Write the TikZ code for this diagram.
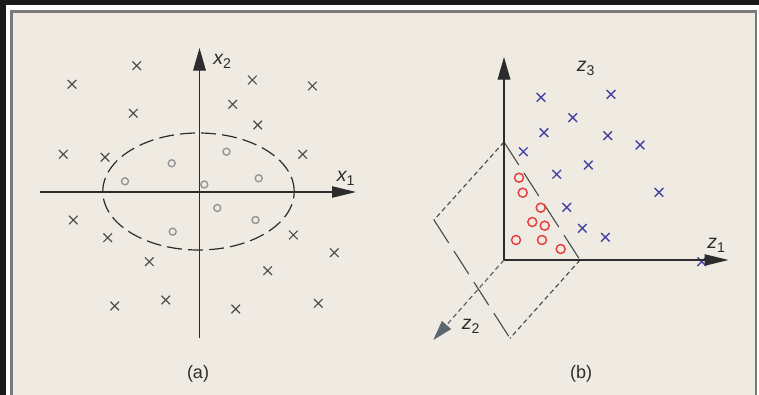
\documentclass[tikz,border=0pt]{standalone}
\usepackage{fontspec}
\setmainfont{Liberation Sans}
\usetikzlibrary{arrows.meta}
\definecolor{bg}{HTML}{EFEBE2}
\definecolor{outer}{HTML}{1A1A1A}
\definecolor{frame}{HTML}{7A7A7A}
\definecolor{axis}{HTML}{2C2C2C}
\definecolor{crossgray}{HTML}{4C4C4C}
\definecolor{circgray}{HTML}{959595}
\definecolor{bluex}{HTML}{4444A4}
\definecolor{redo}{HTML}{E64040}
\definecolor{zgray}{HTML}{5C6670}
\newcommand{\axlbl}[2]{\fontsize{14.6}{16}\selectfont\itshape #1\raisebox{-3pt}{\upshape\fontsize{10.6}{12}\selectfont #2}}
\begin{document}
\begin{tikzpicture}[x=0.75pt,y=-0.75pt,
  axisline/.style={draw=axis,line width=0.95pt},
  bigtip/.style={-{Triangle[length=18pt,width=8.5pt]}},
  vtip/.style={-{Triangle[length=17pt,width=9.5pt]}},
  ztip/.style={-{Triangle[length=15pt,width=9pt,fill=zgray]}},
  lbl/.style={anchor=base west,inner sep=0pt,text=axis},
  captext/.style={inner sep=0pt,text=axis,font=\fontsize{13.5}{15}\selectfont},
  crossa/.style={draw=crossgray,line width=0.85pt},
  crossb/.style={draw=bluex,line width=1.05pt},
  circa/.style={draw=circgray,line width=1.05pt},
  circb/.style={draw=redo,line width=1.1pt},
  shortdash/.style={draw=axis!85,line width=0.85pt,dash pattern=on 3.6pt off 2.4pt},
  longdash/.style={draw=axis!85,line width=0.85pt,dash pattern=on 20.5pt off 7.2pt},
]
\useasboundingbox (0,0) rectangle (759,395);
% frame
\fill[outer] (0,0) rectangle (759,395);
\fill[white] (6,5) rectangle (759,395);
\draw[fill=bg,draw=frame,line width=1.9pt] (11.5,11.5) rectangle (755.8,402);

% ---------------- panel (a) ----------------
\coordinate (aL) at (40,192);
\coordinate (aR) at (356,192);
\coordinate (aB) at (199.5,338);
\coordinate (aT) at (199.5,48);
\coordinate (ac) at (198.5,191.5);
\draw[axisline,bigtip] (aL) -- (aR);
\draw[axisline,vtip] (aB) -- (aT);
\draw[draw=axis,line width=0.9pt,dash pattern=on 11.2pt off 4.6pt,dash phase=6pt]
  (ac) ellipse [x radius=95.7, y radius=58.5];
\node[lbl] (x1) at (336.5,181.5) {\axlbl{x}{1}};
\node[lbl] (x2) at (213,65) {\axlbl{x}{2}};
\foreach \p in {(136.7,65.7),(72,84.3),(252.3,80),(312.3,86),(133.3,113.3),
  (232.7,104.3),(257.7,125),(63.3,154.3),(105,157.3),(302.7,154.3),
  (73.3,220),(107.7,237.7),(293.3,235),(334.3,252.7),(149.3,261.7),
  (267.7,270.7),(114.7,306),(165.7,300),(235.7,309),(318.3,303.3)}
  \draw[crossa] \p ++(-4.3,-4.3) -- ++(8.6,8.6) ++(0,-8.6) -- ++(-8.6,8.6);
\foreach \p in {(226.5,151.7),(171.7,163.3),(125,181.3),(204.3,184.5),
  (258.7,178.3),(217.3,208),(255.5,220),(172.7,231.7)}
  \draw[circa] \p circle [radius=3.5];
\node[captext] (capa) at (198,373.5) {(a)};

% ---------------- panel (b) ----------------
\coordinate (o) at (504,260);
\coordinate (z1e) at (728.5,260);
\coordinate (z3e) at (504,57);
\coordinate (z2e) at (433.3,340);
\coordinate (pT) at (504,142);
\coordinate (pR) at (580,260);
\coordinate (pB) at (510,338.3);
\coordinate (pL) at (434,220);
\draw[shortdash] (pT) -- (pL);
\draw[shortdash] (pR) -- (pB);
\draw[longdash] (pT) -- (pR);
\draw[longdash] (pL) -- (pB);
\foreach \p in {(541,97.3),(611,94.3),(572.7,117.7),(544,132.7),(607.7,135.7),
  (640,145),(523.3,151.7),(588.3,165),(556.7,174.3),(659,192.3),
  (566.7,207.3),(582.3,228.3),(605.3,237.3),(701.7,261.7)}
  \draw[crossb] \p ++(-4.3,-4.3) -- ++(8.6,8.6) ++(0,-8.6) -- ++(-8.6,8.6);
\foreach \p in {(519,177.7),(522.7,192.7),(540.7,207.7),(532.3,222),
  (544.7,225.7),(516,240),(542,240),(560.7,249)}
  \draw[circb] \p circle [radius=4.5];
\draw[axisline,vtip] (o) -- (z3e);
\draw[axisline,bigtip] (o) -- (z1e);
\draw[draw=zgray,line width=0.9pt,dash pattern=on 3.6pt off 2.4pt,ztip] (o) -- (z2e);
\node[lbl] (z1) at (707,248) {\axlbl{z}{1}};
\node[lbl] (z2) at (461.5,329) {\axlbl{z}{2}};
\node[lbl] (z3) at (576.5,71.5) {\axlbl{z}{3}};
\node[captext] (capb) at (581,373.5) {(b)};
\end{tikzpicture}
\end{document}
